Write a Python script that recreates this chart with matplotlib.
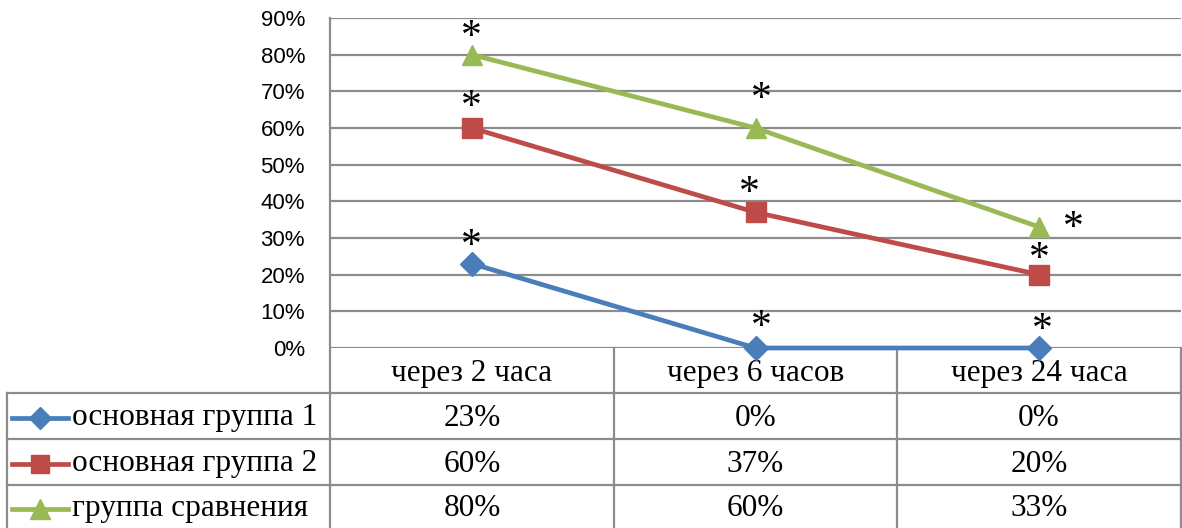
import matplotlib
matplotlib.use("Agg")
import matplotlib.pyplot as plt

# data
categories = ["через 2 часа", "через 6 часов", "через 24 часа"]
series_names = ["основная группа 1", "основная группа 2", "группа сравнения"]
group1 = [0.23, 0.00, 0.00]
group2 = [0.60, 0.37, 0.20]
group3 = [0.80, 0.60, 0.33]
yticks = [0.0, 0.1, 0.2, 0.3, 0.4, 0.5, 0.6, 0.7, 0.8, 0.9]

# asterisk annotations: (category index offset, value) per series
stars1 = [(0.0, 0.295), (1.02, 0.076), (2.01, 0.068)]
stars2 = [(0.0, 0.676), (0.98, 0.442), (2.0, 0.262)]
stars3 = [(0.0, 0.867), (1.02, 0.698), (2.12, 0.344)]

colors = ["#4A7EBB", "#BE4B48", "#98B954"]
markers = ["D", "s", "^"]
msizes = [12, 14, 15]
grid_c = "#8C8C8C"

W, H = 1182, 528
fig = plt.figure(figsize=(W / 100, H / 100), dpi=100)

# overlay in pixel coords for the data table
ov = fig.add_axes([0, 0, 1, 1])
ov.set_xlim(0, W)
ov.set_ylim(H, 0)
ov.axis("off")

x0, x1 = 330, 1181
ytop, y0 = 18, 348
ax = fig.add_axes([x0 / W, 1 - y0 / H, (x1 - x0) / W, (y0 - ytop) / H])
ax.set_xlim(-0.5, 2.5)
ax.set_ylim(0, 0.9)
for s in ax.spines.values():
    s.set_visible(False)
ax.set_yticks(yticks)
ax.set_yticklabels(["%d%%" % round(v * 100) for v in yticks],
                   fontfamily="Liberation Sans", fontsize=16)
ax.tick_params(axis="y", length=0, pad=18)
ax.set_xticks([])
ax.yaxis.grid(True, color=grid_c, lw=1.6)
ax.set_axisbelow(True)
ax.patch.set_alpha(0)

xs = range(len(categories))
for vals, c, m, ms in zip([group1, group2, group3], colors, markers, msizes):
    ax.plot(xs, vals, color=c, lw=3.4, marker=m, ms=ms, mec=c, clip_on=False, zorder=3)

for stars in [stars1, stars2, stars3]:
    for sx, sy in stars:
        ax.text(sx, sy - 0.02, "*", fontfamily="Liberation Serif", fontsize=30,
                ha="center", va="center", color="black")

# table grid
lc = dict(color=grid_c, lw=1.6)
col_edges = [330, 614, 897, 1181]
row_edges = [348, 393, 439, 485, 528]
ov.plot([330, 330], [ytop, H], **lc)
ov.plot([1181, 1181], [348, H], **lc)
ov.plot([7, 7], [393, H], **lc)
for x in col_edges[1:3]:
    ov.plot([x, x], [348, H], **lc)
for y in row_edges[1:4]:
    ov.plot([7, 1181], [y, y], **lc)

tf = dict(fontfamily="Liberation Serif", fontsize=22.5, color="black")
for i, cat in enumerate(categories):
    cx = (col_edges[i] + col_edges[i + 1]) / 2
    ov.text(cx, 373, cat, ha="center", va="center", **tf)

for r, (name, vals, c, m, ms) in enumerate(zip(series_names, [group1, group2, group3],
                                               colors, markers, msizes)):
    cy = (row_edges[r + 1] + row_edges[r + 2]) / 2 + 2
    ov.plot([12, 68], [cy, cy], color=c, lw=3.4)
    ov.plot([40], [cy], marker=m, ms=ms - 1, color=c, mec=c)
    ov.text(72, cy, name, ha="left", va="center", **tf)
    for i, v in enumerate(vals):
        cx = (col_edges[i] + col_edges[i + 1]) / 2
        ov.text(cx, cy, "%d%%" % round(v * 100), ha="center", va="center", **tf)

fig.savefig("out.png", dpi=100)
